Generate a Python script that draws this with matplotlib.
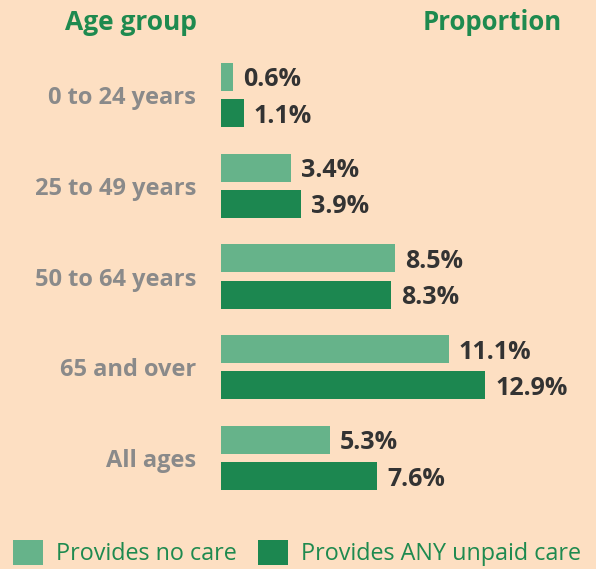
#! /usr/bin/env python3

import matplotlib
matplotlib.use("Agg")
import matplotlib.pyplot as plt
import numpy as np

##
## Data
##
age_groups = ["0 to 24 years", "25 to 49 years", "50 to 64 years", "65 and over", "All ages"]
no_care = [0.6, 3.4, 8.5, 11.1, 5.3]
any_care = [1.1, 3.9, 8.3, 12.9, 7.6]
series_names = ["Provides no care", "Provides ANY unpaid care"]

bg = "#FDDFC2"
light_green = "#66B38A"
dark_green = "#1C8750"
header_green = "#1E8A4F"
label_grey = "#8A8A8A"
value_dark = "#333333"

plt.rcParams["font.family"] = ["Open Sans", "DejaVu Sans"]

W, H = 596, 569
fig = plt.figure(figsize=(W / 100, H / 100), dpi=100, facecolor=bg)

# axes placed in pixel terms
ax_left, ax_right = 221, 580
ax_top, ax_bottom = 49.6, 503.4
ax = fig.add_axes([ax_left / W, 1 - ax_bottom / H,
                   (ax_right - ax_left) / W, (ax_bottom - ax_top) / H])
ax.set_facecolor(bg)

y = np.arange(len(age_groups))
bar_h = 0.31
off = 0.2

ax.barh(y - off, no_care, height=bar_h, color=light_green, label=series_names[0])
ax.barh(y + off, any_care, height=bar_h, color=dark_green, label=series_names[1])

for yi, v in zip(y - off, no_care):
    ax.text(v + 0.5, yi, f"{v}%", va="center_baseline", ha="left", fontsize=18,
            fontweight="bold", color=value_dark)
for yi, v in zip(y + off, any_care):
    ax.text(v + 0.5, yi, f"{v}%", va="center_baseline", ha="left", fontsize=18,
            fontweight="bold", color=value_dark)

ax.set_xlim(0, (ax_right - ax_left) / 20.5)
ax.set_ylim(len(age_groups) - 0.5, -0.5)
ax.set_yticks(y)
ax.set_yticklabels(age_groups, fontsize=17, fontweight="bold", color=label_grey)
ax.tick_params(axis="y", length=0, pad=18)
ax.set_xticks([])
for s in ax.spines.values():
    s.set_visible(False)

# headers
fig.text(131 / W, 1 - 22 / H, "Age group", ha="center", va="center",
         fontsize=19, fontweight="bold", color=header_green)
fig.text(492 / W, 1 - 22 / H, "Proportion", ha="center", va="center",
         fontsize=18.5, fontweight="bold", color=header_green)

# legend
leg = fig.legend(loc="lower left", bbox_to_anchor=(-0.002, -0.02), ncol=2,
                 frameon=False, fontsize=16.8, handlelength=1.3, handleheight=1.3,
                 handletextpad=0.55, columnspacing=0.9, borderaxespad=0.2)
for t in leg.get_texts():
    t.set_color(header_green)

fig.savefig("out.png", dpi=100, facecolor=bg)
